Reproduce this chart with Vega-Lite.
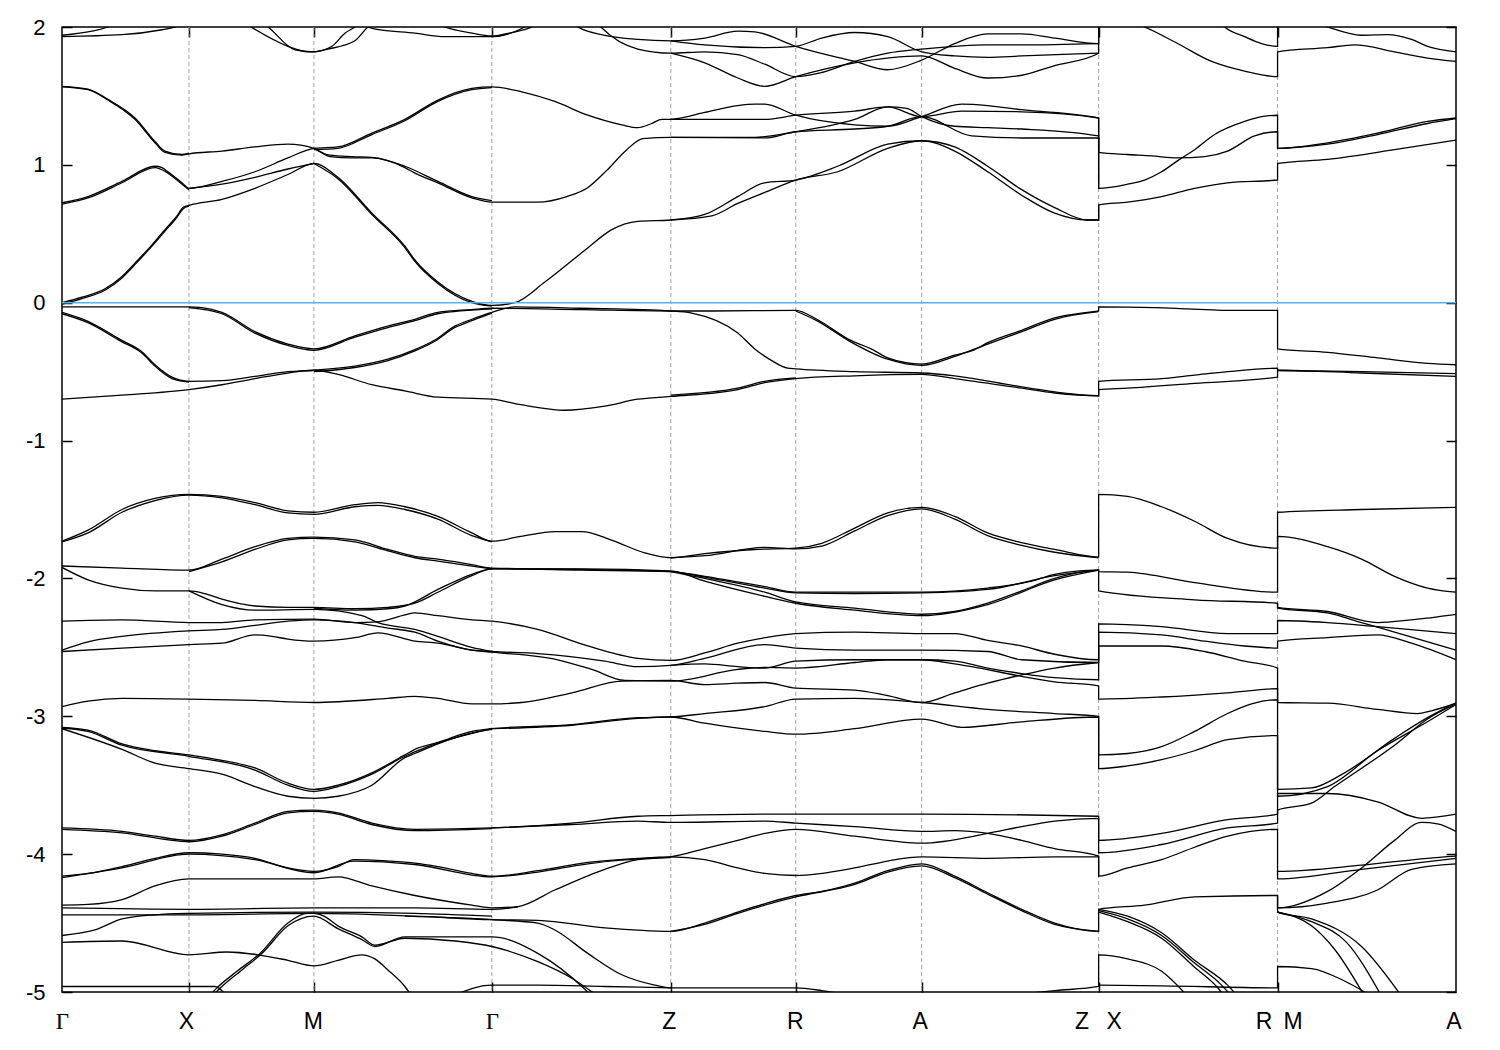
{
"$schema": "https://vega.github.io/schema/vega-lite/v6.json",
"width": 1394, "height": 965,
"autosize": {"type": "none"},
"padding": {"left": 62, "top": 27, "right": 44, "bottom": 58},
"background": "white",
"config": {
 "view": {"stroke": "black", "strokeWidth": 1.5},
 "axis": {"domain": false, "grid": false, "tickColor": "black", "tickWidth": 1.5, "labelColor": "black", "labelFont": "Liberation Sans", "labelFontSize": 22}
},
"resolve": {"axis": {"x": "independent", "y": "independent"}},
"layer": [
{
 "data": {"values": [{"k":127},{"k":252},{"k":430},{"k":609},{"k":734},{"k":860},{"k":1037},{"k":1216}]},
 "mark": {"type": "rule", "stroke": "#a0a0a0", "strokeWidth": 1, "strokeDash": [4, 3]},
 "encoding": {
  "x": {"field": "k", "type": "quantitative", "scale": {"domain": [0, 1394.5], "nice": false, "zero": false},
   "axis": {"orient": "top", "values": [127,252,430,609,734,860,1037,1216], "labels": false, "tickSize": -10, "title": null}}
 }
},
{
 "data": {"values": [
{"b":1,"k":0,"e":0.00},{"b":1,"k":20,"e":0.04},{"b":1,"k":43,"e":0.10},{"b":1,"k":60,"e":0.19},{"b":1,"k":76,"e":0.31},{"b":1,"k":90,"e":0.42},{"b":1,"k":103,"e":0.53},{"b":1,"k":115,"e":0.63},{"b":1,"k":121,"e":0.69},{"b":1,"k":127,"e":0.706},{"b":1,"k":160,"e":0.75},{"b":1,"k":193,"e":0.83},{"b":1,"k":226,"e":0.93},{"b":1,"k":252,"e":1.01},{"b":1,"k":276,"e":0.91},{"b":1,"k":310,"e":0.65},{"b":1,"k":343,"e":0.41},{"b":1,"k":353,"e":0.31},{"b":1,"k":376,"e":0.15},{"b":1,"k":410,"e":0.01},{"b":1,"k":430,"e":-0.02},{"b":1,"k":453,"e":0.00},{"b":1,"k":483,"e":0.15},{"b":1,"k":523,"e":0.38},{"b":1,"k":550,"e":0.53},{"b":1,"k":576,"e":0.59},{"b":1,"k":609,"e":0.60},{"b":1,"k":643,"e":0.64},{"b":1,"k":676,"e":0.77},{"b":1,"k":703,"e":0.87},{"b":1,"k":734,"e":0.89},{"b":1,"k":776,"e":0.99},{"b":1,"k":826,"e":1.15},{"b":1,"k":860,"e":1.175},{"b":1,"k":893,"e":1.13},{"b":1,"k":926,"e":0.99},{"b":1,"k":960,"e":0.82},{"b":1,"k":993,"e":0.69},{"b":1,"k":1026,"e":0.60},{"b":1,"k":1037,"e":0.60},{"b":1,"k":1037,"e":0.71},{"b":1,"k":1066,"e":0.73},{"b":1,"k":1100,"e":0.77},{"b":1,"k":1133,"e":0.83},{"b":1,"k":1166,"e":0.87},{"b":1,"k":1216,"e":0.89},{"b":1,"k":1216,"e":1.01},{"b":1,"k":1266,"e":1.04},{"b":1,"k":1333,"e":1.11},{"b":1,"k":1394.5,"e":1.18},
{"b":2,"k":609,"e":0.60},{"b":2,"k":650,"e":0.63},{"b":2,"k":676,"e":0.72},{"b":2,"k":703,"e":0.80},{"b":2,"k":734,"e":0.89},{"b":2,"k":776,"e":0.95},{"b":2,"k":826,"e":1.12},{"b":2,"k":860,"e":1.175},{"b":2,"k":893,"e":1.10},{"b":2,"k":926,"e":0.95},{"b":2,"k":960,"e":0.78},{"b":2,"k":993,"e":0.65},{"b":2,"k":1026,"e":0.60},{"b":2,"k":1037,"e":0.60},{"b":2,"k":1037,"e":0.71},
{"b":3,"k":0,"e":-0.01},{"b":3,"k":20,"e":0.03},{"b":3,"k":43,"e":0.09},{"b":3,"k":60,"e":0.18},{"b":3,"k":76,"e":0.30},{"b":3,"k":90,"e":0.41},{"b":3,"k":103,"e":0.52},{"b":3,"k":115,"e":0.62},{"b":3,"k":121,"e":0.68},{"b":3,"k":127,"e":0.70},
{"b":4,"k":252,"e":1.01},{"b":4,"k":276,"e":0.90},{"b":4,"k":310,"e":0.64},{"b":4,"k":343,"e":0.40},{"b":4,"k":353,"e":0.30},{"b":4,"k":376,"e":0.14},{"b":4,"k":410,"e":0.00},{"b":4,"k":430,"e":-0.025},
{"b":5,"k":0,"e":0.725},{"b":5,"k":26,"e":0.77},{"b":5,"k":60,"e":0.88},{"b":5,"k":93,"e":0.99},{"b":5,"k":100,"e":0.98},{"b":5,"k":106,"e":0.95},{"b":5,"k":120,"e":0.87},{"b":5,"k":127,"e":0.83},{"b":5,"k":160,"e":0.88},{"b":5,"k":193,"e":0.95},{"b":5,"k":226,"e":1.05},{"b":5,"k":252,"e":1.12},{"b":5,"k":276,"e":1.13},{"b":5,"k":310,"e":1.23},{"b":5,"k":343,"e":1.33},{"b":5,"k":376,"e":1.47},{"b":5,"k":410,"e":1.555},{"b":5,"k":430,"e":1.565},{"b":5,"k":460,"e":1.53},{"b":5,"k":493,"e":1.46},{"b":5,"k":526,"e":1.36},{"b":5,"k":560,"e":1.29},{"b":5,"k":576,"e":1.27},{"b":5,"k":590,"e":1.30},{"b":5,"k":600,"e":1.33},{"b":5,"k":609,"e":1.33},{"b":5,"k":643,"e":1.38},{"b":5,"k":676,"e":1.43},{"b":5,"k":693,"e":1.44},{"b":5,"k":703,"e":1.44},{"b":5,"k":734,"e":1.36},{"b":5,"k":793,"e":1.29},{"b":5,"k":826,"e":1.28},{"b":5,"k":860,"e":1.35},{"b":5,"k":900,"e":1.44},{"b":5,"k":926,"e":1.43},{"b":5,"k":960,"e":1.40},{"b":5,"k":1037,"e":1.34},{"b":5,"k":1037,"e":1.09},{"b":5,"k":1066,"e":1.075},{"b":5,"k":1090,"e":1.065},{"b":5,"k":1116,"e":1.05},{"b":5,"k":1143,"e":1.06},{"b":5,"k":1166,"e":1.10},{"b":5,"k":1193,"e":1.21},{"b":5,"k":1216,"e":1.24},{"b":5,"k":1216,"e":1.12},{"b":5,"k":1266,"e":1.16},{"b":5,"k":1316,"e":1.23},{"b":5,"k":1366,"e":1.315},{"b":5,"k":1394.5,"e":1.34},
{"b":6,"k":0,"e":0.715},{"b":6,"k":26,"e":0.76},{"b":6,"k":60,"e":0.87},{"b":6,"k":93,"e":0.98},{"b":6,"k":106,"e":0.94},{"b":6,"k":120,"e":0.86},{"b":6,"k":127,"e":0.82},
{"b":7,"k":252,"e":1.11},{"b":7,"k":276,"e":1.12},{"b":7,"k":310,"e":1.22},{"b":7,"k":343,"e":1.32},{"b":7,"k":376,"e":1.46},{"b":7,"k":410,"e":1.545},{"b":7,"k":430,"e":1.56},
{"b":8,"k":127,"e":0.83},{"b":8,"k":160,"e":0.86},{"b":8,"k":193,"e":0.91},{"b":8,"k":226,"e":0.97},{"b":8,"k":252,"e":1.01},
{"b":9,"k":0,"e":1.565},{"b":9,"k":26,"e":1.545},{"b":9,"k":46,"e":1.47},{"b":9,"k":73,"e":1.33},{"b":9,"k":93,"e":1.16},{"b":9,"k":103,"e":1.09},{"b":9,"k":120,"e":1.07},{"b":9,"k":127,"e":1.08},{"b":9,"k":160,"e":1.10},{"b":9,"k":193,"e":1.13},{"b":9,"k":226,"e":1.15},{"b":9,"k":252,"e":1.12},{"b":9,"k":268,"e":1.06},{"b":9,"k":290,"e":1.05},{"b":9,"k":310,"e":1.05},{"b":9,"k":343,"e":0.98},{"b":9,"k":353,"e":0.94},{"b":9,"k":376,"e":0.87},{"b":9,"k":410,"e":0.76},{"b":9,"k":430,"e":0.73},{"b":9,"k":476,"e":0.73},{"b":9,"k":505,"e":0.77},{"b":9,"k":525,"e":0.83},{"b":9,"k":545,"e":0.96},{"b":9,"k":565,"e":1.11},{"b":9,"k":581,"e":1.19},{"b":9,"k":609,"e":1.20},{"b":9,"k":693,"e":1.20},{"b":9,"k":734,"e":1.24},{"b":9,"k":793,"e":1.33},{"b":9,"k":826,"e":1.42},{"b":9,"k":845,"e":1.41},{"b":9,"k":860,"e":1.35},{"b":9,"k":893,"e":1.28},{"b":9,"k":926,"e":1.27},{"b":9,"k":960,"e":1.26},{"b":9,"k":1037,"e":1.21},{"b":9,"k":1037,"e":0.83},{"b":9,"k":1066,"e":0.86},{"b":9,"k":1083,"e":0.89},{"b":9,"k":1100,"e":0.95},{"b":9,"k":1118,"e":1.04},{"b":9,"k":1133,"e":1.11},{"b":9,"k":1153,"e":1.22},{"b":9,"k":1183,"e":1.315},{"b":9,"k":1200,"e":1.35},{"b":9,"k":1216,"e":1.36},{"b":9,"k":1216,"e":1.12},{"b":9,"k":1266,"e":1.15},{"b":9,"k":1316,"e":1.22},{"b":9,"k":1366,"e":1.30},{"b":9,"k":1394.5,"e":1.335},
{"b":10,"k":0,"e":1.57},{"b":10,"k":26,"e":1.55},{"b":10,"k":46,"e":1.475},{"b":10,"k":73,"e":1.34},{"b":10,"k":93,"e":1.17},{"b":10,"k":103,"e":1.10},{"b":10,"k":120,"e":1.075},{"b":10,"k":127,"e":1.085},
{"b":11,"k":252,"e":1.12},{"b":11,"k":268,"e":1.07},{"b":11,"k":290,"e":1.06},{"b":11,"k":310,"e":1.055},{"b":11,"k":343,"e":0.99},{"b":11,"k":376,"e":0.88},{"b":11,"k":410,"e":0.77},{"b":11,"k":430,"e":0.74},
{"b":12,"k":609,"e":1.33},{"b":12,"k":643,"e":1.33},{"b":12,"k":703,"e":1.33},{"b":12,"k":734,"e":1.36},{"b":12,"k":793,"e":1.39},{"b":12,"k":826,"e":1.42},{"b":12,"k":860,"e":1.35},{"b":12,"k":900,"e":1.39},{"b":12,"k":960,"e":1.385},{"b":12,"k":1037,"e":1.34},{"b":12,"k":1037,"e":1.09},
{"b":13,"k":609,"e":1.20},{"b":13,"k":703,"e":1.195},{"b":13,"k":734,"e":1.24},{"b":13,"k":793,"e":1.26},{"b":13,"k":826,"e":1.28},{"b":13,"k":860,"e":1.35},{"b":13,"k":910,"e":1.21},{"b":13,"k":960,"e":1.195},{"b":13,"k":1037,"e":1.195},{"b":13,"k":1037,"e":0.83},
{"b":14,"k":0,"e":1.94},{"b":14,"k":30,"e":1.97},{"b":14,"k":46,"e":2.0},{"b":14,"k":55,"e":2.03},
{"b":15,"k":0,"e":1.93},{"b":15,"k":60,"e":1.944},{"b":15,"k":100,"e":1.98},{"b":15,"k":113,"e":2.0},{"b":15,"k":125,"e":2.03},
{"b":16,"k":180,"e":2.04},{"b":16,"k":189,"e":2.0},{"b":16,"k":226,"e":1.86},{"b":16,"k":246,"e":1.82},{"b":16,"k":252,"e":1.82},{"b":16,"k":270,"e":1.86},{"b":16,"k":283,"e":1.955},{"b":16,"k":293,"e":2.0},{"b":16,"k":300,"e":2.04},
{"b":17,"k":200,"e":2.03},{"b":17,"k":206,"e":2.0},{"b":17,"k":233,"e":1.835},{"b":17,"k":252,"e":1.82},{"b":17,"k":266,"e":1.84},{"b":17,"k":293,"e":1.90},{"b":17,"k":306,"e":2.0},{"b":17,"k":312,"e":2.03},
{"b":18,"k":300,"e":2.04},{"b":18,"k":310,"e":1.99},{"b":18,"k":353,"e":1.955},{"b":18,"k":383,"e":1.93},{"b":18,"k":430,"e":1.93},{"b":18,"k":463,"e":2.0},{"b":18,"k":470,"e":2.03},
{"b":19,"k":370,"e":2.04},{"b":19,"k":383,"e":2.0},{"b":19,"k":410,"e":1.955},{"b":19,"k":430,"e":1.935},{"b":19,"k":450,"e":1.96},{"b":19,"k":470,"e":2.0},{"b":19,"k":475,"e":2.02},
{"b":20,"k":510,"e":2.03},{"b":20,"k":516,"e":2.0},{"b":20,"k":543,"e":1.94},{"b":20,"k":576,"e":1.91},{"b":20,"k":609,"e":1.90},{"b":20,"k":643,"e":1.92},{"b":20,"k":676,"e":1.97},{"b":20,"k":693,"e":1.965},{"b":20,"k":734,"e":1.86},{"b":20,"k":793,"e":1.75},{"b":20,"k":826,"e":1.69},{"b":20,"k":860,"e":1.76},{"b":20,"k":893,"e":1.88},{"b":20,"k":926,"e":1.95},{"b":20,"k":960,"e":1.95},{"b":20,"k":993,"e":1.92},{"b":20,"k":1037,"e":1.88},{"b":20,"k":1037,"e":2.1},{"b":20,"k":1083,"e":2.0},{"b":20,"k":1116,"e":1.88},{"b":20,"k":1150,"e":1.75},{"b":20,"k":1183,"e":1.68},{"b":20,"k":1216,"e":1.64},{"b":20,"k":1216,"e":1.82},{"b":20,"k":1266,"e":1.85},{"b":20,"k":1293,"e":1.87},{"b":20,"k":1333,"e":1.82},{"b":20,"k":1366,"e":1.775},{"b":20,"k":1394.5,"e":1.75},
{"b":21,"k":609,"e":1.90},{"b":21,"k":643,"e":1.87},{"b":21,"k":703,"e":1.85},{"b":21,"k":734,"e":1.86},{"b":21,"k":760,"e":1.92},{"b":21,"k":793,"e":1.96},{"b":21,"k":826,"e":1.93},{"b":21,"k":860,"e":1.82},{"b":21,"k":893,"e":1.79},{"b":21,"k":926,"e":1.78},{"b":21,"k":960,"e":1.79},{"b":21,"k":1037,"e":1.81},
{"b":22,"k":535,"e":2.03},{"b":22,"k":539,"e":2.0},{"b":22,"k":576,"e":1.84},{"b":22,"k":609,"e":1.81},{"b":22,"k":643,"e":1.82},{"b":22,"k":676,"e":1.80},{"b":22,"k":703,"e":1.73},{"b":22,"k":734,"e":1.64},{"b":22,"k":760,"e":1.67},{"b":22,"k":793,"e":1.75},{"b":22,"k":826,"e":1.81},{"b":22,"k":860,"e":1.84},{"b":22,"k":893,"e":1.86},{"b":22,"k":926,"e":1.87},{"b":22,"k":960,"e":1.87},{"b":22,"k":1037,"e":1.88},
{"b":23,"k":609,"e":1.81},{"b":23,"k":643,"e":1.74},{"b":23,"k":676,"e":1.63},{"b":23,"k":703,"e":1.57},{"b":23,"k":734,"e":1.64},{"b":23,"k":793,"e":1.74},{"b":23,"k":860,"e":1.79},{"b":23,"k":893,"e":1.70},{"b":23,"k":926,"e":1.63},{"b":23,"k":960,"e":1.65},{"b":23,"k":993,"e":1.72},{"b":23,"k":1037,"e":1.81},{"b":23,"k":1037,"e":2.2},{"b":23,"k":1150,"e":2.1},{"b":23,"k":1163,"e":2.0},{"b":23,"k":1183,"e":1.93},{"b":23,"k":1200,"e":1.88},{"b":23,"k":1216,"e":1.86},{"b":23,"k":1216,"e":2.15},{"b":23,"k":1266,"e":2.0},{"b":23,"k":1300,"e":1.94},{"b":23,"k":1326,"e":1.945},{"b":23,"k":1350,"e":1.91},{"b":23,"k":1366,"e":1.86},{"b":23,"k":1394.5,"e":1.82},
{"b":25,"k":0,"e":-0.03},{"b":25,"k":60,"e":-0.03},{"b":25,"k":127,"e":-0.03},{"b":25,"k":140,"e":-0.035},{"b":25,"k":160,"e":-0.07},{"b":25,"k":193,"e":-0.21},{"b":25,"k":226,"e":-0.30},{"b":25,"k":252,"e":-0.335},{"b":25,"k":293,"e":-0.24},{"b":25,"k":326,"e":-0.17},{"b":25,"k":353,"e":-0.12},{"b":25,"k":376,"e":-0.07},{"b":25,"k":410,"e":-0.05},{"b":25,"k":430,"e":-0.04},{"b":25,"k":520,"e":-0.05},{"b":25,"k":609,"e":-0.06},{"b":25,"k":650,"e":-0.06},{"b":25,"k":734,"e":-0.055},{"b":25,"k":755,"e":-0.12},{"b":25,"k":788,"e":-0.27},{"b":25,"k":811,"e":-0.34},{"b":25,"k":826,"e":-0.40},{"b":25,"k":860,"e":-0.445},{"b":25,"k":893,"e":-0.38},{"b":25,"k":913,"e":-0.34},{"b":25,"k":926,"e":-0.29},{"b":25,"k":960,"e":-0.20},{"b":25,"k":993,"e":-0.11},{"b":25,"k":1026,"e":-0.07},{"b":25,"k":1037,"e":-0.06},{"b":25,"k":1037,"e":-0.03},{"b":25,"k":1093,"e":-0.035},{"b":25,"k":1126,"e":-0.045},{"b":25,"k":1160,"e":-0.055},{"b":25,"k":1216,"e":-0.055},{"b":25,"k":1216,"e":-0.335},{"b":25,"k":1266,"e":-0.36},{"b":25,"k":1316,"e":-0.40},{"b":25,"k":1366,"e":-0.44},{"b":25,"k":1394.5,"e":-0.45},
{"b":26,"k":127,"e":-0.035},{"b":26,"k":160,"e":-0.08},{"b":26,"k":193,"e":-0.22},{"b":26,"k":226,"e":-0.31},{"b":26,"k":252,"e":-0.345},{"b":26,"k":293,"e":-0.25},{"b":26,"k":326,"e":-0.18},{"b":26,"k":353,"e":-0.13},{"b":26,"k":376,"e":-0.08},{"b":26,"k":430,"e":-0.045},
{"b":27,"k":734,"e":-0.06},{"b":27,"k":755,"e":-0.13},{"b":27,"k":788,"e":-0.28},{"b":27,"k":826,"e":-0.41},{"b":27,"k":860,"e":-0.455},{"b":27,"k":893,"e":-0.39},{"b":27,"k":926,"e":-0.30},{"b":27,"k":960,"e":-0.21},{"b":27,"k":993,"e":-0.12},{"b":27,"k":1037,"e":-0.065},
{"b":28,"k":0,"e":-0.07},{"b":28,"k":26,"e":-0.135},{"b":28,"k":59,"e":-0.27},{"b":28,"k":79,"e":-0.35},{"b":28,"k":93,"e":-0.45},{"b":28,"k":110,"e":-0.54},{"b":28,"k":127,"e":-0.57},{"b":28,"k":160,"e":-0.565},{"b":28,"k":193,"e":-0.535},{"b":28,"k":226,"e":-0.50},{"b":28,"k":252,"e":-0.49},{"b":28,"k":293,"e":-0.46},{"b":28,"k":326,"e":-0.41},{"b":28,"k":353,"e":-0.34},{"b":28,"k":373,"e":-0.27},{"b":28,"k":393,"e":-0.17},{"b":28,"k":410,"e":-0.12},{"b":28,"k":430,"e":-0.07},{"b":28,"k":453,"e":-0.03},{"b":28,"k":520,"e":-0.04},{"b":28,"k":609,"e":-0.06},{"b":28,"k":630,"e":-0.075},{"b":28,"k":676,"e":-0.22},{"b":28,"k":693,"e":-0.335},{"b":28,"k":710,"e":-0.42},{"b":28,"k":726,"e":-0.475},{"b":28,"k":734,"e":-0.48},{"b":28,"k":793,"e":-0.50},{"b":28,"k":860,"e":-0.51},{"b":28,"k":893,"e":-0.53},{"b":28,"k":960,"e":-0.61},{"b":28,"k":1037,"e":-0.675},{"b":28,"k":1037,"e":-0.57},{"b":28,"k":1100,"e":-0.55},{"b":28,"k":1133,"e":-0.525},{"b":28,"k":1166,"e":-0.50},{"b":28,"k":1216,"e":-0.475},{"b":28,"k":1216,"e":-0.49},{"b":28,"k":1300,"e":-0.50},{"b":28,"k":1394.5,"e":-0.515},
{"b":29,"k":0,"e":-0.08},{"b":29,"k":26,"e":-0.145},{"b":29,"k":59,"e":-0.28},{"b":29,"k":79,"e":-0.36},{"b":29,"k":93,"e":-0.46},{"b":29,"k":110,"e":-0.55},{"b":29,"k":127,"e":-0.575},
{"b":30,"k":252,"e":-0.50},{"b":30,"k":293,"e":-0.47},{"b":30,"k":326,"e":-0.42},{"b":30,"k":353,"e":-0.35},{"b":30,"k":373,"e":-0.28},{"b":30,"k":393,"e":-0.18},{"b":30,"k":410,"e":-0.13},{"b":30,"k":430,"e":-0.075},
{"b":31,"k":0,"e":-0.70},{"b":31,"k":60,"e":-0.67},{"b":31,"k":127,"e":-0.63},{"b":31,"k":160,"e":-0.595},{"b":31,"k":193,"e":-0.55},{"b":31,"k":226,"e":-0.51},{"b":31,"k":252,"e":-0.49},{"b":31,"k":276,"e":-0.52},{"b":31,"k":310,"e":-0.595},{"b":31,"k":343,"e":-0.64},{"b":31,"k":376,"e":-0.685},{"b":31,"k":430,"e":-0.70},{"b":31,"k":459,"e":-0.74},{"b":31,"k":503,"e":-0.78},{"b":31,"k":543,"e":-0.75},{"b":31,"k":576,"e":-0.70},{"b":31,"k":609,"e":-0.68},{"b":31,"k":676,"e":-0.63},{"b":31,"k":703,"e":-0.58},{"b":31,"k":734,"e":-0.55},{"b":31,"k":793,"e":-0.53},{"b":31,"k":860,"e":-0.52},{"b":31,"k":893,"e":-0.55},{"b":31,"k":960,"e":-0.62},{"b":31,"k":993,"e":-0.655},{"b":31,"k":1037,"e":-0.675},{"b":31,"k":1037,"e":-0.63},{"b":31,"k":1066,"e":-0.62},{"b":31,"k":1133,"e":-0.585},{"b":31,"k":1216,"e":-0.54},{"b":31,"k":1216,"e":-0.49},{"b":31,"k":1300,"e":-0.51},{"b":31,"k":1394.5,"e":-0.535},
{"b":32,"k":609,"e":-0.67},{"b":32,"k":676,"e":-0.62},{"b":32,"k":703,"e":-0.57},{"b":32,"k":734,"e":-0.545},
{"b":33,"k":0,"e":-1.73},{"b":33,"k":26,"e":-1.65},{"b":33,"k":60,"e":-1.50},{"b":33,"k":93,"e":-1.42},{"b":33,"k":127,"e":-1.39},{"b":33,"k":160,"e":-1.405},{"b":33,"k":193,"e":-1.45},{"b":33,"k":226,"e":-1.51},{"b":33,"k":252,"e":-1.52},{"b":33,"k":293,"e":-1.465},{"b":33,"k":316,"e":-1.45},{"b":33,"k":343,"e":-1.48},{"b":33,"k":376,"e":-1.55},{"b":33,"k":410,"e":-1.67},{"b":33,"k":430,"e":-1.73},{"b":33,"k":459,"e":-1.695},{"b":33,"k":493,"e":-1.66},{"b":33,"k":520,"e":-1.66},{"b":33,"k":549,"e":-1.72},{"b":33,"k":583,"e":-1.815},{"b":33,"k":609,"e":-1.85},{"b":33,"k":643,"e":-1.82},{"b":33,"k":693,"e":-1.79},{"b":33,"k":734,"e":-1.78},{"b":33,"k":760,"e":-1.745},{"b":33,"k":793,"e":-1.635},{"b":33,"k":826,"e":-1.525},{"b":33,"k":860,"e":-1.485},{"b":33,"k":893,"e":-1.55},{"b":33,"k":926,"e":-1.67},{"b":33,"k":960,"e":-1.74},{"b":33,"k":993,"e":-1.79},{"b":33,"k":1037,"e":-1.845},{"b":33,"k":1037,"e":-1.39},{"b":33,"k":1066,"e":-1.405},{"b":33,"k":1100,"e":-1.48},{"b":33,"k":1133,"e":-1.585},{"b":33,"k":1166,"e":-1.71},{"b":33,"k":1216,"e":-1.78},{"b":33,"k":1216,"e":-1.52},{"b":33,"k":1300,"e":-1.50},{"b":33,"k":1394.5,"e":-1.485},
{"b":34,"k":0,"e":-1.735},{"b":34,"k":26,"e":-1.67},{"b":34,"k":60,"e":-1.52},{"b":34,"k":93,"e":-1.435},{"b":34,"k":127,"e":-1.395},{"b":34,"k":160,"e":-1.415},{"b":34,"k":193,"e":-1.465},{"b":34,"k":226,"e":-1.525},{"b":34,"k":252,"e":-1.535},{"b":34,"k":293,"e":-1.48},{"b":34,"k":316,"e":-1.47},{"b":34,"k":343,"e":-1.50},{"b":34,"k":376,"e":-1.57},{"b":34,"k":410,"e":-1.69},{"b":34,"k":430,"e":-1.735},
{"b":35,"k":609,"e":-1.85},{"b":35,"k":643,"e":-1.835},{"b":35,"k":703,"e":-1.775},{"b":35,"k":734,"e":-1.785},{"b":35,"k":760,"e":-1.765},{"b":35,"k":793,"e":-1.655},{"b":35,"k":826,"e":-1.545},{"b":35,"k":860,"e":-1.495},{"b":35,"k":893,"e":-1.57},{"b":35,"k":926,"e":-1.69},{"b":35,"k":960,"e":-1.76},{"b":35,"k":993,"e":-1.81},{"b":35,"k":1037,"e":-1.85},
{"b":36,"k":0,"e":-1.91},{"b":36,"k":60,"e":-1.925},{"b":36,"k":127,"e":-1.94},{"b":36,"k":160,"e":-1.86},{"b":36,"k":193,"e":-1.77},{"b":36,"k":226,"e":-1.71},{"b":36,"k":252,"e":-1.70},{"b":36,"k":293,"e":-1.72},{"b":36,"k":326,"e":-1.79},{"b":36,"k":353,"e":-1.84},{"b":36,"k":376,"e":-1.86},{"b":36,"k":410,"e":-1.90},{"b":36,"k":430,"e":-1.925},{"b":36,"k":520,"e":-1.935},{"b":36,"k":609,"e":-1.95},{"b":36,"k":643,"e":-1.985},{"b":36,"k":703,"e":-2.06},{"b":36,"k":734,"e":-2.10},{"b":36,"k":793,"e":-2.10},{"b":36,"k":860,"e":-2.10},{"b":36,"k":926,"e":-2.07},{"b":36,"k":970,"e":-2.02},{"b":36,"k":993,"e":-1.97},{"b":36,"k":1037,"e":-1.94},{"b":36,"k":1037,"e":-1.95},{"b":36,"k":1066,"e":-1.955},{"b":36,"k":1133,"e":-2.03},{"b":36,"k":1216,"e":-2.10},{"b":36,"k":1216,"e":-1.695},{"b":36,"k":1266,"e":-1.77},{"b":36,"k":1300,"e":-1.86},{"b":36,"k":1333,"e":-1.985},{"b":36,"k":1366,"e":-2.07},{"b":36,"k":1394.5,"e":-2.10},
{"b":37,"k":127,"e":-1.95},{"b":37,"k":160,"e":-1.88},{"b":37,"k":193,"e":-1.79},{"b":37,"k":226,"e":-1.72},{"b":37,"k":252,"e":-1.71},{"b":37,"k":293,"e":-1.735},{"b":37,"k":326,"e":-1.80},{"b":37,"k":353,"e":-1.85},{"b":37,"k":376,"e":-1.875},{"b":37,"k":410,"e":-1.91},{"b":37,"k":430,"e":-1.93},
{"b":38,"k":609,"e":-1.95},{"b":38,"k":643,"e":-2.00},{"b":38,"k":703,"e":-2.10},{"b":38,"k":734,"e":-2.17},{"b":38,"k":793,"e":-2.215},{"b":38,"k":860,"e":-2.26},{"b":38,"k":893,"e":-2.24},{"b":38,"k":926,"e":-2.18},{"b":38,"k":960,"e":-2.09},{"b":38,"k":993,"e":-2.00},{"b":38,"k":1037,"e":-1.94},{"b":38,"k":1037,"e":-2.09},{"b":38,"k":1133,"e":-2.155},{"b":38,"k":1216,"e":-2.18},{"b":38,"k":1216,"e":-2.21},{"b":38,"k":1266,"e":-2.24},{"b":38,"k":1316,"e":-2.32},{"b":38,"k":1350,"e":-2.30},{"b":38,"k":1394.5,"e":-2.26},
{"b":41,"k":0,"e":-1.92},{"b":41,"k":26,"e":-2.01},{"b":41,"k":60,"e":-2.07},{"b":41,"k":93,"e":-2.09},{"b":41,"k":127,"e":-2.09},{"b":41,"k":143,"e":-2.11},{"b":41,"k":160,"e":-2.15},{"b":41,"k":193,"e":-2.20},{"b":41,"k":226,"e":-2.21},{"b":41,"k":252,"e":-2.21},{"b":41,"k":293,"e":-2.22},{"b":41,"k":326,"e":-2.21},{"b":41,"k":353,"e":-2.18},{"b":41,"k":376,"e":-2.10},{"b":41,"k":410,"e":-1.98},{"b":41,"k":430,"e":-1.93},{"b":41,"k":520,"e":-1.94},{"b":41,"k":609,"e":-1.95},{"b":41,"k":643,"e":-1.99},{"b":41,"k":703,"e":-2.07},{"b":41,"k":734,"e":-2.105},{"b":41,"k":793,"e":-2.11},{"b":41,"k":860,"e":-2.105},{"b":41,"k":926,"e":-2.08},{"b":41,"k":993,"e":-1.98},{"b":41,"k":1037,"e":-1.94},
{"b":42,"k":127,"e":-2.09},{"b":42,"k":160,"e":-2.19},{"b":42,"k":193,"e":-2.23},{"b":42,"k":252,"e":-2.225},{"b":42,"k":300,"e":-2.27},{"b":42,"k":316,"e":-2.32},{"b":42,"k":353,"e":-2.37},{"b":42,"k":376,"e":-2.42},{"b":42,"k":410,"e":-2.50},{"b":42,"k":430,"e":-2.53},
{"b":43,"k":252,"e":-2.215},{"b":43,"k":293,"e":-2.23},{"b":43,"k":326,"e":-2.22},{"b":43,"k":343,"e":-2.20},{"b":43,"k":376,"e":-2.08},{"b":43,"k":410,"e":-1.97},{"b":43,"k":430,"e":-1.93},{"b":43,"k":520,"e":-1.93},{"b":43,"k":609,"e":-1.945},{"b":43,"k":643,"e":-2.02},{"b":43,"k":703,"e":-2.13},{"b":43,"k":734,"e":-2.18},{"b":43,"k":793,"e":-2.23},{"b":43,"k":860,"e":-2.27},{"b":43,"k":926,"e":-2.19},{"b":43,"k":993,"e":-2.01},{"b":43,"k":1037,"e":-1.94},
{"b":44,"k":0,"e":-2.31},{"b":44,"k":60,"e":-2.30},{"b":44,"k":127,"e":-2.32},{"b":44,"k":160,"e":-2.32},{"b":44,"k":193,"e":-2.30},{"b":44,"k":252,"e":-2.295},{"b":44,"k":293,"e":-2.32},{"b":44,"k":316,"e":-2.315},{"b":44,"k":343,"e":-2.265},{"b":44,"k":353,"e":-2.25},{"b":44,"k":376,"e":-2.27},{"b":44,"k":410,"e":-2.30},{"b":44,"k":430,"e":-2.31},{"b":44,"k":476,"e":-2.37},{"b":44,"k":526,"e":-2.49},{"b":44,"k":576,"e":-2.58},{"b":44,"k":609,"e":-2.595},{"b":44,"k":643,"e":-2.54},{"b":44,"k":676,"e":-2.47},{"b":44,"k":703,"e":-2.43},{"b":44,"k":734,"e":-2.40},{"b":44,"k":793,"e":-2.39},{"b":44,"k":860,"e":-2.40},{"b":44,"k":893,"e":-2.40},{"b":44,"k":926,"e":-2.45},{"b":44,"k":960,"e":-2.49},{"b":44,"k":993,"e":-2.55},{"b":44,"k":1037,"e":-2.59},{"b":44,"k":1037,"e":-2.33},{"b":44,"k":1100,"e":-2.35},{"b":44,"k":1166,"e":-2.40},{"b":44,"k":1216,"e":-2.40},{"b":44,"k":1216,"e":-2.305},{"b":44,"k":1266,"e":-2.32},{"b":44,"k":1316,"e":-2.35},{"b":44,"k":1394.5,"e":-2.40},
{"b":45,"k":0,"e":-2.52},{"b":45,"k":26,"e":-2.46},{"b":45,"k":60,"e":-2.42},{"b":45,"k":127,"e":-2.38},{"b":45,"k":160,"e":-2.37},{"b":45,"k":193,"e":-2.34},{"b":45,"k":226,"e":-2.31},{"b":45,"k":252,"e":-2.30},{"b":45,"k":293,"e":-2.32},{"b":45,"k":326,"e":-2.36},{"b":45,"k":353,"e":-2.39},{"b":45,"k":376,"e":-2.455},{"b":45,"k":410,"e":-2.52},{"b":45,"k":430,"e":-2.53},{"b":45,"k":476,"e":-2.545},{"b":45,"k":543,"e":-2.60},{"b":45,"k":576,"e":-2.64},{"b":45,"k":609,"e":-2.63},{"b":45,"k":643,"e":-2.58},{"b":45,"k":703,"e":-2.48},{"b":45,"k":734,"e":-2.505},{"b":45,"k":793,"e":-2.52},{"b":45,"k":860,"e":-2.52},{"b":45,"k":926,"e":-2.53},{"b":45,"k":960,"e":-2.59},{"b":45,"k":1037,"e":-2.61},{"b":45,"k":1037,"e":-2.39},{"b":45,"k":1100,"e":-2.41},{"b":45,"k":1143,"e":-2.455},{"b":45,"k":1183,"e":-2.49},{"b":45,"k":1216,"e":-2.505},{"b":45,"k":1216,"e":-2.455},{"b":45,"k":1266,"e":-2.43},{"b":45,"k":1316,"e":-2.41},{"b":45,"k":1350,"e":-2.47},{"b":45,"k":1394.5,"e":-2.59},
{"b":46,"k":0,"e":-2.53},{"b":46,"k":60,"e":-2.505},{"b":46,"k":127,"e":-2.48},{"b":46,"k":160,"e":-2.47},{"b":46,"k":193,"e":-2.41},{"b":46,"k":210,"e":-2.42},{"b":46,"k":226,"e":-2.44},{"b":46,"k":252,"e":-2.455},{"b":46,"k":293,"e":-2.43},{"b":46,"k":316,"e":-2.395},{"b":46,"k":353,"e":-2.455},{"b":46,"k":376,"e":-2.47},{"b":46,"k":410,"e":-2.52},{"b":46,"k":430,"e":-2.535},{"b":46,"k":496,"e":-2.59},{"b":46,"k":530,"e":-2.66},{"b":46,"k":563,"e":-2.74},{"b":46,"k":609,"e":-2.745},{"b":46,"k":676,"e":-2.66},{"b":46,"k":703,"e":-2.645},{"b":46,"k":734,"e":-2.65},{"b":46,"k":793,"e":-2.61},{"b":46,"k":826,"e":-2.59},{"b":46,"k":860,"e":-2.59},{"b":46,"k":893,"e":-2.60},{"b":46,"k":926,"e":-2.65},{"b":46,"k":960,"e":-2.69},{"b":46,"k":993,"e":-2.72},{"b":46,"k":1037,"e":-2.735},{"b":46,"k":1037,"e":-2.49},{"b":46,"k":1100,"e":-2.49},{"b":46,"k":1143,"e":-2.53},{"b":46,"k":1183,"e":-2.60},{"b":46,"k":1216,"e":-2.65},{"b":46,"k":1216,"e":-2.90},
{"b":47,"k":0,"e":-2.93},{"b":47,"k":26,"e":-2.89},{"b":47,"k":60,"e":-2.87},{"b":47,"k":127,"e":-2.875},{"b":47,"k":193,"e":-2.885},{"b":47,"k":252,"e":-2.90},{"b":47,"k":326,"e":-2.87},{"b":47,"k":353,"e":-2.855},{"b":47,"k":376,"e":-2.87},{"b":47,"k":410,"e":-2.91},{"b":47,"k":430,"e":-2.91},{"b":47,"k":460,"e":-2.90},{"b":47,"k":510,"e":-2.83},{"b":47,"k":560,"e":-2.745},{"b":47,"k":609,"e":-2.74},{"b":47,"k":643,"e":-2.77},{"b":47,"k":676,"e":-2.76},{"b":47,"k":703,"e":-2.755},{"b":47,"k":734,"e":-2.795},{"b":47,"k":793,"e":-2.81},{"b":47,"k":826,"e":-2.85},{"b":47,"k":860,"e":-2.90},{"b":47,"k":893,"e":-2.83},{"b":47,"k":926,"e":-2.76},{"b":47,"k":960,"e":-2.70},{"b":47,"k":993,"e":-2.65},{"b":47,"k":1037,"e":-2.61},
{"b":48,"k":609,"e":-2.63},{"b":48,"k":643,"e":-2.62},{"b":48,"k":676,"e":-2.64},{"b":48,"k":703,"e":-2.65},{"b":48,"k":734,"e":-2.60},{"b":48,"k":793,"e":-2.59},{"b":48,"k":860,"e":-2.59},{"b":48,"k":893,"e":-2.62},{"b":48,"k":910,"e":-2.64},{"b":48,"k":960,"e":-2.71},{"b":48,"k":993,"e":-2.75},{"b":48,"k":1037,"e":-2.78},{"b":48,"k":1037,"e":-2.875},{"b":48,"k":1100,"e":-2.86},{"b":48,"k":1166,"e":-2.83},{"b":48,"k":1216,"e":-2.80},{"b":48,"k":1216,"e":-2.90},{"b":48,"k":1266,"e":-2.905},{"b":48,"k":1316,"e":-2.95},{"b":48,"k":1356,"e":-2.98},{"b":48,"k":1370,"e":-2.96},{"b":48,"k":1394.5,"e":-2.905},
{"b":49,"k":0,"e":-3.08},{"b":49,"k":26,"e":-3.10},{"b":49,"k":60,"e":-3.20},{"b":49,"k":93,"e":-3.25},{"b":49,"k":127,"e":-3.28},{"b":49,"k":160,"e":-3.32},{"b":49,"k":193,"e":-3.375},{"b":49,"k":226,"e":-3.485},{"b":49,"k":252,"e":-3.53},{"b":49,"k":276,"e":-3.50},{"b":49,"k":310,"e":-3.41},{"b":49,"k":343,"e":-3.28},{"b":49,"k":353,"e":-3.24},{"b":49,"k":376,"e":-3.19},{"b":49,"k":410,"e":-3.11},{"b":49,"k":430,"e":-3.09},{"b":49,"k":510,"e":-3.06},{"b":49,"k":576,"e":-3.01},{"b":49,"k":609,"e":-3.005},{"b":49,"k":643,"e":-2.98},{"b":49,"k":703,"e":-2.93},{"b":49,"k":734,"e":-2.875},{"b":49,"k":793,"e":-2.87},{"b":49,"k":860,"e":-2.90},{"b":49,"k":926,"e":-2.95},{"b":49,"k":993,"e":-2.98},{"b":49,"k":1037,"e":-3.00},{"b":49,"k":1037,"e":-3.28},{"b":49,"k":1066,"e":-3.27},{"b":49,"k":1100,"e":-3.22},{"b":49,"k":1133,"e":-3.11},{"b":49,"k":1166,"e":-2.98},{"b":49,"k":1190,"e":-2.91},{"b":49,"k":1216,"e":-2.88},{"b":49,"k":1216,"e":-3.53},{"b":49,"k":1250,"e":-3.52},{"b":49,"k":1283,"e":-3.41},{"b":49,"k":1333,"e":-3.16},{"b":49,"k":1366,"e":-3.01},{"b":49,"k":1394.5,"e":-2.905},
{"b":50,"k":0,"e":-3.09},{"b":50,"k":60,"e":-3.24},{"b":50,"k":93,"e":-3.34},{"b":50,"k":127,"e":-3.38},{"b":50,"k":160,"e":-3.42},{"b":50,"k":193,"e":-3.51},{"b":50,"k":226,"e":-3.58},{"b":50,"k":252,"e":-3.595},{"b":50,"k":276,"e":-3.58},{"b":50,"k":310,"e":-3.50},{"b":50,"k":343,"e":-3.30},{"b":50,"k":353,"e":-3.27},{"b":50,"k":376,"e":-3.20},{"b":50,"k":410,"e":-3.12},{"b":50,"k":430,"e":-3.095},
{"b":51,"k":0,"e":-3.085},{"b":51,"k":26,"e":-3.11},{"b":51,"k":60,"e":-3.21},{"b":51,"k":127,"e":-3.29},{"b":51,"k":193,"e":-3.39},{"b":51,"k":226,"e":-3.50},{"b":51,"k":252,"e":-3.545},{"b":51,"k":276,"e":-3.51},{"b":51,"k":310,"e":-3.42},{"b":51,"k":343,"e":-3.29},{"b":51,"k":376,"e":-3.195},{"b":51,"k":430,"e":-3.09},
{"b":52,"k":430,"e":-3.09},{"b":52,"k":510,"e":-3.065},{"b":52,"k":576,"e":-3.015},{"b":52,"k":609,"e":-3.005},{"b":52,"k":643,"e":-3.05},{"b":52,"k":703,"e":-3.11},{"b":52,"k":734,"e":-3.13},{"b":52,"k":793,"e":-3.09},{"b":52,"k":860,"e":-3.02},{"b":52,"k":900,"e":-3.08},{"b":52,"k":960,"e":-3.04},{"b":52,"k":1037,"e":-3.005},{"b":52,"k":1037,"e":-3.38},{"b":52,"k":1066,"e":-3.36},{"b":52,"k":1100,"e":-3.315},{"b":52,"k":1133,"e":-3.25},{"b":52,"k":1166,"e":-3.17},{"b":52,"k":1216,"e":-3.14},{"b":52,"k":1216,"e":-3.58},{"b":52,"k":1266,"e":-3.51},{"b":52,"k":1316,"e":-3.25},{"b":52,"k":1366,"e":-3.04},{"b":52,"k":1394.5,"e":-2.915},
{"b":53,"k":0,"e":-3.81},{"b":53,"k":60,"e":-3.835},{"b":53,"k":93,"e":-3.87},{"b":53,"k":127,"e":-3.90},{"b":53,"k":160,"e":-3.86},{"b":53,"k":193,"e":-3.775},{"b":53,"k":226,"e":-3.69},{"b":53,"k":252,"e":-3.68},{"b":53,"k":276,"e":-3.70},{"b":53,"k":310,"e":-3.775},{"b":53,"k":353,"e":-3.82},{"b":53,"k":430,"e":-3.81},{"b":53,"k":510,"e":-3.775},{"b":53,"k":576,"e":-3.725},{"b":53,"k":609,"e":-3.72},{"b":53,"k":703,"e":-3.71},{"b":53,"k":734,"e":-3.71},{"b":53,"k":860,"e":-3.71},{"b":53,"k":1037,"e":-3.725},{"b":53,"k":1037,"e":-3.90},{"b":53,"k":1100,"e":-3.85},{"b":53,"k":1166,"e":-3.75},{"b":53,"k":1216,"e":-3.71},{"b":53,"k":1216,"e":-3.56},{"b":53,"k":1266,"e":-3.56},{"b":53,"k":1316,"e":-3.62},{"b":53,"k":1360,"e":-3.74},{"b":53,"k":1394.5,"e":-3.71},
{"b":54,"k":0,"e":-3.82},{"b":54,"k":60,"e":-3.845},{"b":54,"k":127,"e":-3.91},{"b":54,"k":160,"e":-3.87},{"b":54,"k":193,"e":-3.785},{"b":54,"k":226,"e":-3.70},{"b":54,"k":252,"e":-3.69},{"b":54,"k":276,"e":-3.71},{"b":54,"k":310,"e":-3.785},{"b":54,"k":353,"e":-3.83},{"b":54,"k":430,"e":-3.815},
{"b":55,"k":430,"e":-3.81},{"b":55,"k":510,"e":-3.785},{"b":55,"k":576,"e":-3.76},{"b":55,"k":609,"e":-3.77},{"b":55,"k":703,"e":-3.76},{"b":55,"k":734,"e":-3.775},{"b":55,"k":793,"e":-3.80},{"b":55,"k":860,"e":-3.835},{"b":55,"k":893,"e":-3.83},{"b":55,"k":926,"e":-3.85},{"b":55,"k":960,"e":-3.90},{"b":55,"k":993,"e":-3.96},{"b":55,"k":1037,"e":-4.015},{"b":55,"k":1037,"e":-4.16},
{"b":56,"k":0,"e":-4.16},{"b":56,"k":26,"e":-4.14},{"b":56,"k":60,"e":-4.09},{"b":56,"k":93,"e":-4.03},{"b":56,"k":127,"e":-3.99},{"b":56,"k":160,"e":-4.00},{"b":56,"k":193,"e":-4.03},{"b":56,"k":226,"e":-4.10},{"b":56,"k":252,"e":-4.125},{"b":56,"k":276,"e":-4.09},{"b":56,"k":292,"e":-4.04},{"b":56,"k":326,"e":-4.05},{"b":56,"k":353,"e":-4.065},{"b":56,"k":376,"e":-4.09},{"b":56,"k":410,"e":-4.14},{"b":56,"k":430,"e":-4.16},{"b":56,"k":476,"e":-4.12},{"b":56,"k":526,"e":-4.06},{"b":56,"k":576,"e":-4.03},{"b":56,"k":609,"e":-4.02},{"b":56,"k":643,"e":-4.04},{"b":56,"k":676,"e":-4.10},{"b":56,"k":703,"e":-4.14},{"b":56,"k":734,"e":-4.155},{"b":56,"k":793,"e":-4.10},{"b":56,"k":826,"e":-4.05},{"b":56,"k":860,"e":-4.02},{"b":56,"k":926,"e":-4.03},{"b":56,"k":993,"e":-4.02},{"b":56,"k":1037,"e":-4.02},{"b":56,"k":1037,"e":-4.16},{"b":56,"k":1066,"e":-4.10},{"b":56,"k":1100,"e":-4.04},{"b":56,"k":1133,"e":-3.95},{"b":56,"k":1166,"e":-3.87},{"b":56,"k":1216,"e":-3.82},{"b":56,"k":1216,"e":-4.125},{"b":56,"k":1300,"e":-4.08},{"b":56,"k":1366,"e":-4.03},{"b":56,"k":1394.5,"e":-4.015},
{"b":57,"k":0,"e":-4.17},{"b":57,"k":60,"e":-4.10},{"b":57,"k":127,"e":-4.00},{"b":57,"k":193,"e":-4.04},{"b":57,"k":252,"e":-4.135},{"b":57,"k":292,"e":-4.05},{"b":57,"k":353,"e":-4.075},{"b":57,"k":430,"e":-4.165},{"b":57,"k":476,"e":-4.13},{"b":57,"k":526,"e":-4.07},{"b":57,"k":576,"e":-4.035},{"b":57,"k":609,"e":-4.025},
{"b":58,"k":0,"e":-4.37},{"b":58,"k":26,"e":-4.365},{"b":58,"k":60,"e":-4.33},{"b":58,"k":93,"e":-4.23},{"b":58,"k":127,"e":-4.18},{"b":58,"k":193,"e":-4.18},{"b":58,"k":252,"e":-4.18},{"b":58,"k":276,"e":-4.165},{"b":58,"k":310,"e":-4.23},{"b":58,"k":353,"e":-4.30},{"b":58,"k":410,"e":-4.37},{"b":58,"k":430,"e":-4.39},{"b":58,"k":456,"e":-4.38},{"b":58,"k":493,"e":-4.26},{"b":58,"k":543,"e":-4.11},{"b":58,"k":576,"e":-4.04},{"b":58,"k":609,"e":-4.02},{"b":58,"k":643,"e":-3.96},{"b":58,"k":676,"e":-3.90},{"b":58,"k":703,"e":-3.85},{"b":58,"k":734,"e":-3.82},{"b":58,"k":793,"e":-3.87},{"b":58,"k":860,"e":-3.92},{"b":58,"k":926,"e":-3.85},{"b":58,"k":960,"e":-3.80},{"b":58,"k":993,"e":-3.76},{"b":58,"k":1037,"e":-3.74},{"b":58,"k":1037,"e":-3.99},{"b":58,"k":1100,"e":-3.93},{"b":58,"k":1166,"e":-3.81},{"b":58,"k":1216,"e":-3.775},{"b":58,"k":1216,"e":-3.68},{"b":58,"k":1250,"e":-3.63},{"b":58,"k":1273,"e":-3.51},{"b":58,"k":1333,"e":-3.21},{"b":58,"k":1366,"e":-3.02},{"b":58,"k":1394.5,"e":-2.91},
{"b":59,"k":0,"e":-4.39},{"b":59,"k":127,"e":-4.40},{"b":59,"k":252,"e":-4.39},{"b":59,"k":353,"e":-4.39},{"b":59,"k":430,"e":-4.40},{"b":59,"k":456,"e":-4.385},
{"b":60,"k":0,"e":-4.44},{"b":60,"k":127,"e":-4.44},{"b":60,"k":252,"e":-4.43},{"b":60,"k":353,"e":-4.45},{"b":60,"k":430,"e":-4.475},{"b":60,"k":476,"e":-4.48},{"b":60,"k":543,"e":-4.535},{"b":60,"k":609,"e":-4.56},{"b":60,"k":643,"e":-4.50},{"b":60,"k":676,"e":-4.42},{"b":60,"k":703,"e":-4.36},{"b":60,"k":734,"e":-4.30},{"b":60,"k":760,"e":-4.27},{"b":60,"k":793,"e":-4.21},{"b":60,"k":826,"e":-4.12},{"b":60,"k":860,"e":-4.07},{"b":60,"k":893,"e":-4.16},{"b":60,"k":926,"e":-4.28},{"b":60,"k":960,"e":-4.40},{"b":60,"k":993,"e":-4.50},{"b":60,"k":1037,"e":-4.56},{"b":60,"k":1037,"e":-4.40},{"b":60,"k":1083,"e":-4.37},{"b":60,"k":1133,"e":-4.31},{"b":60,"k":1216,"e":-4.30},{"b":60,"k":1216,"e":-4.39},{"b":60,"k":1266,"e":-4.27},{"b":60,"k":1300,"e":-4.10},{"b":60,"k":1333,"e":-3.90},{"b":60,"k":1360,"e":-3.77},{"b":60,"k":1376,"e":-3.78},{"b":60,"k":1394.5,"e":-3.835},
{"b":61,"k":609,"e":-4.56},{"b":61,"k":643,"e":-4.51},{"b":61,"k":676,"e":-4.43},{"b":61,"k":703,"e":-4.37},{"b":61,"k":734,"e":-4.31},{"b":61,"k":793,"e":-4.22},{"b":61,"k":826,"e":-4.13},{"b":61,"k":860,"e":-4.085},{"b":61,"k":893,"e":-4.17},{"b":61,"k":926,"e":-4.29},{"b":61,"k":960,"e":-4.41},{"b":61,"k":993,"e":-4.51},{"b":61,"k":1037,"e":-4.56},
{"b":62,"k":0,"e":-4.59},{"b":62,"k":33,"e":-4.55},{"b":62,"k":60,"e":-4.47},{"b":62,"k":93,"e":-4.44},{"b":62,"k":127,"e":-4.43},{"b":62,"k":252,"e":-4.42},{"b":62,"k":353,"e":-4.43},{"b":62,"k":430,"e":-4.45},
{"b":63,"k":343,"e":-4.45},{"b":63,"k":430,"e":-4.475},{"b":63,"k":476,"e":-4.50},{"b":63,"k":493,"e":-4.55},{"b":63,"k":526,"e":-4.72},{"b":63,"k":560,"e":-4.875},{"b":63,"k":593,"e":-4.95},{"b":63,"k":609,"e":-4.97},{"b":63,"k":660,"e":-4.97},{"b":63,"k":734,"e":-4.97},{"b":63,"k":760,"e":-4.99},{"b":63,"k":790,"e":-5.03},
{"b":64,"k":0,"e":-4.64},{"b":64,"k":60,"e":-4.63},{"b":64,"k":127,"e":-4.73},{"b":64,"k":165,"e":-4.71},{"b":64,"k":196,"e":-4.73},{"b":64,"k":226,"e":-4.77},{"b":64,"k":252,"e":-4.81},{"b":64,"k":276,"e":-4.77},{"b":64,"k":300,"e":-4.73},{"b":64,"k":313,"e":-4.76},{"b":64,"k":326,"e":-4.84},{"b":64,"k":343,"e":-4.96},{"b":64,"k":350,"e":-5.03},
{"b":65,"k":147,"e":-5.03},{"b":65,"k":155,"e":-4.97},{"b":65,"k":175,"e":-4.85},{"b":65,"k":198,"e":-4.72},{"b":65,"k":226,"e":-4.50},{"b":65,"k":245,"e":-4.43},{"b":65,"k":252,"e":-4.43},{"b":65,"k":262,"e":-4.45},{"b":65,"k":276,"e":-4.52},{"b":65,"k":300,"e":-4.60},{"b":65,"k":313,"e":-4.66},{"b":65,"k":343,"e":-4.61},{"b":65,"k":393,"e":-4.63},{"b":65,"k":430,"e":-4.67},{"b":65,"k":476,"e":-4.78},{"b":65,"k":510,"e":-4.90},{"b":65,"k":536,"e":-5.03},
{"b":66,"k":150,"e":-5.03},{"b":66,"k":160,"e":-4.96},{"b":66,"k":180,"e":-4.84},{"b":66,"k":200,"e":-4.72},{"b":66,"k":226,"e":-4.52},{"b":66,"k":252,"e":-4.45},{"b":66,"k":276,"e":-4.54},{"b":66,"k":300,"e":-4.62},{"b":66,"k":313,"e":-4.67},{"b":66,"k":343,"e":-4.60},{"b":66,"k":430,"e":-4.60},{"b":66,"k":476,"e":-4.72},{"b":66,"k":523,"e":-4.98},{"b":66,"k":530,"e":-5.03},
{"b":67,"k":0,"e":-4.96},{"b":67,"k":153,"e":-4.96},{"b":67,"k":165,"e":-5.03},
{"b":68,"k":390,"e":-5.03},{"b":68,"k":430,"e":-4.95},{"b":68,"k":476,"e":-4.95},{"b":68,"k":543,"e":-4.96},{"b":68,"k":609,"e":-4.97},
{"b":69,"k":940,"e":-5.03},{"b":69,"k":993,"e":-4.99},{"b":69,"k":1037,"e":-4.96},{"b":69,"k":1037,"e":-4.73},{"b":69,"k":1066,"e":-4.76},{"b":69,"k":1100,"e":-4.85},{"b":69,"k":1126,"e":-5.03},
{"b":70,"k":1037,"e":-4.95},{"b":70,"k":1100,"e":-4.955},{"b":70,"k":1216,"e":-4.97},{"b":70,"k":1216,"e":-4.815},{"b":70,"k":1250,"e":-4.83},{"b":70,"k":1283,"e":-4.92},{"b":70,"k":1310,"e":-5.03},
{"b":71,"k":1037,"e":-4.40},{"b":71,"k":1066,"e":-4.45},{"b":71,"k":1100,"e":-4.57},{"b":71,"k":1133,"e":-4.77},{"b":71,"k":1166,"e":-4.95},{"b":71,"k":1176,"e":-5.03},
{"b":72,"k":1037,"e":-4.41},{"b":72,"k":1066,"e":-4.47},{"b":72,"k":1100,"e":-4.59},{"b":72,"k":1133,"e":-4.79},{"b":72,"k":1160,"e":-4.95},{"b":72,"k":1170,"e":-5.03},
{"b":73,"k":1037,"e":-4.42},{"b":73,"k":1066,"e":-4.49},{"b":73,"k":1100,"e":-4.61},{"b":73,"k":1133,"e":-4.82},{"b":73,"k":1155,"e":-4.96},{"b":73,"k":1163,"e":-5.03},
{"b":74,"k":1216,"e":-4.30},{"b":74,"k":1216,"e":-4.39},{"b":74,"k":1266,"e":-4.355},{"b":74,"k":1316,"e":-4.26},{"b":74,"k":1350,"e":-4.11},{"b":74,"k":1394.5,"e":-4.07},
{"b":75,"k":1216,"e":-4.125},{"b":75,"k":1216,"e":-4.18},{"b":75,"k":1300,"e":-4.11},{"b":75,"k":1394.5,"e":-4.03},
{"b":76,"k":1216,"e":-4.39},{"b":76,"k":1216,"e":-4.42},{"b":76,"k":1250,"e":-4.47},{"b":76,"k":1300,"e":-4.67},{"b":76,"k":1340,"e":-5.03},
{"b":77,"k":1216,"e":-4.42},{"b":77,"k":1250,"e":-4.52},{"b":77,"k":1273,"e":-4.69},{"b":77,"k":1303,"e":-5.03},
{"b":78,"k":1216,"e":-4.42},{"b":78,"k":1250,"e":-4.49},{"b":78,"k":1285,"e":-4.64},{"b":78,"k":1320,"e":-5.03},
{"b":79,"k":1216,"e":-2.18},{"b":79,"k":1216,"e":-2.215},{"b":79,"k":1266,"e":-2.25},{"b":79,"k":1300,"e":-2.32},{"b":79,"k":1333,"e":-2.39},{"b":79,"k":1394.5,"e":-2.52}
 ]},
 "mark": {"type": "line", "stroke": "black", "strokeWidth": 1.3, "clip": true, "interpolate": "monotone"},
 "encoding": {
  "x": {"field": "k", "type": "quantitative", "scale": {"domain": [0, 1394.5], "nice": false, "zero": false},
   "axis": {"orient": "bottom", "title": null, "values": [0,127,252,430,609,734,860,1037,1216,124,251,607,733,858,1020,1052,1202,1231,1392],
    "tickSize": -10, "labelPadding": 28, "labelFontSize": 23, "labelOverlap": false, "labelFlush": false, "labelBound": false,
    "tickOpacity": {"condition": {"test": "indexof([127,252,430,609,734,860,1037,1216], datum.value) >= 0", "value": 1}, "value": 0},
    "labelFont": {"condition": {"test": "datum.value == 0 || datum.value == 430", "value": "Liberation Serif"}, "value": "Liberation Sans"},
    "labelExpr": "datum.value == 0 || datum.value == 430 ? 'Γ' : (datum.value == 124 || datum.value == 1052 ? 'X' : (datum.value == 251 || datum.value == 1231 ? 'M' : (datum.value == 607 || datum.value == 1020 ? 'Z' : (datum.value == 733 || datum.value == 1202 ? 'R' : (datum.value == 858 || datum.value == 1392 ? 'A' : '')))))"}},
  "y": {"field": "e", "type": "quantitative", "scale": {"domain": [-5, 2], "nice": false, "zero": false},
   "axis": {"orient": "left", "title": null, "values": [-5,-4,-3,-2,-1,0,1,2], "tickSize": -10, "labelPadding": 27, "labelExpr": "'' + datum.value"}},
  "detail": {"field": "b", "type": "nominal"},
  "order": {"value": null}
 }
},
{
 "data": {"values": [{"e": 0}]},
 "mark": {"type": "rule", "stroke": "#56b4e9", "strokeWidth": 1.5},
 "encoding": {
  "y": {"field": "e", "type": "quantitative", "scale": {"domain": [-5, 2], "nice": false, "zero": false},
   "axis": {"orient": "right", "title": null, "values": [-5,-4,-3,-2,-1,0,1,2], "labels": false, "tickSize": -10}}
 }
}
]
}
